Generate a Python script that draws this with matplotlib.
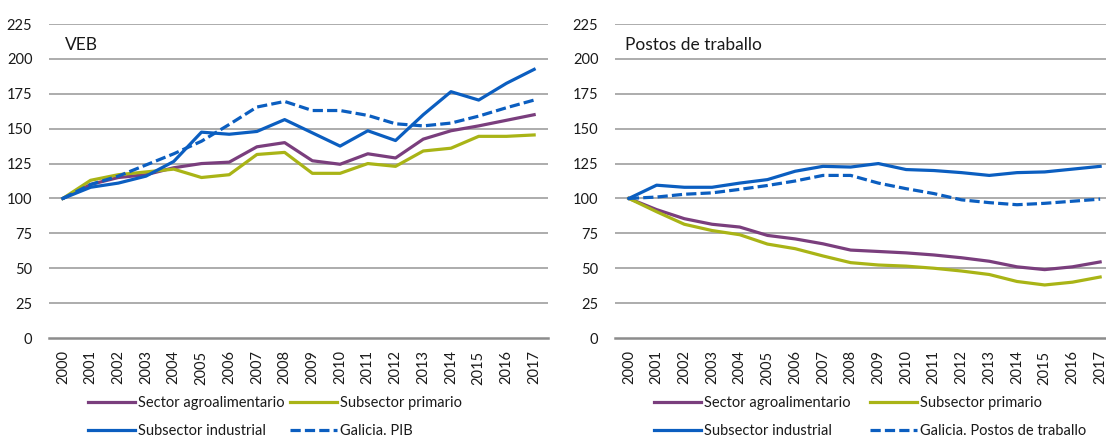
import matplotlib.pyplot as plt
import numpy as np

plt.rcParams["font.family"] = ["Lato", "DejaVu Sans"]

years = [str(y) for y in range(2000, 2018)]

# VEB (index 2000 = 100)
veb_agro = [100, 110, 115, 117, 122, 125, 126, 137, 140, 127, 124.5, 132, 129, 142.5, 148.5, 152, 156, 160]
veb_primario = [100, 113, 117, 119, 121, 115, 117, 131.5, 133, 118, 118, 125, 123, 134, 136, 144.5, 144.5, 145.5]
veb_industrial = [100, 108, 111, 116, 126.5, 147.5, 146, 148, 156.5, 147, 137.5, 148.5, 141.5, 160, 176.5, 170.5, 182.5, 192.5]
veb_galicia = [100, 110, 116, 124, 132, 141, 153, 165.5, 169.5, 163, 163, 159.5, 153.5, 152, 154, 159, 165, 170.5]

# Postos de traballo (index 2000 = 100)
emp_agro = [100, 92, 85.5, 81.5, 79.5, 73.5, 71, 67.5, 63, 62, 61, 59.5, 57.5, 55, 51, 49, 51, 54.5]
emp_primario = [100, 90.5, 81.5, 77, 74, 67.3, 64, 58.8, 54, 52.3, 51.5, 50, 48, 45.5, 40.5, 38, 40, 43.7]
emp_industrial = [100, 109.5, 108, 108, 111, 113.5, 119.5, 123, 122.5, 125, 120.7, 120, 118.5, 116.5, 118.5, 119, 121, 123]
emp_galicia = [100, 101, 103, 104, 106.5, 109.3, 112.5, 116.5, 116.5, 111, 107, 103.5, 99, 97, 95.5, 96.5, 98, 99.5]

PURPLE = "#7A3E7D"
OLIVE = "#A9B416"
BLUE = "#0B5EC0"
GRID = "#A6A6A6"
TXT = "#1a1a1a"
W, H = 1106, 441

fig = plt.figure(figsize=(W / 100, H / 100), dpi=100)
ax1 = fig.add_axes([49 / W, 1 - 338 / H, 499 / W, 314 / H])
ax2 = fig.add_axes([615 / W, 1 - 338 / H, 499 / W, 314 / H])

x = np.arange(len(years))


def draw(ax, agro, prim, ind, gal, title, gal_label, colsp, title_px):
    lw = 2.3
    h1, = ax.plot(x, agro, color=PURPLE, lw=lw, label="Sector agroalimentario")
    h2, = ax.plot(x, prim, color=OLIVE, lw=lw, label="Subsector primario")
    h3, = ax.plot(x, ind, color=BLUE, lw=lw, label="Subsector industrial")
    h4, = ax.plot(x, gal, color=BLUE, lw=lw, dashes=(3.2, 1.3), label=gal_label)

    ax.set_xlim(-0.5, 17.5)
    ax.set_ylim(0, 225)
    ax.set_yticks(range(0, 226, 25))
    ax.set_xticks(x)
    ax.set_xticklabels(years, rotation=90)
    for v in range(25, 226, 25):
        ax.axhline(v, color=GRID, lw=1.3, zorder=0)
    for s in ["left", "right", "top"]:
        ax.spines[s].set_visible(False)
    ax.spines["bottom"].set_color("#8C8C8C")
    ax.spines["bottom"].set_linewidth(1.8)
    ax.tick_params(length=0, labelsize=10.5, colors=TXT)
    ax.tick_params(axis="y", pad=12)
    ax.tick_params(axis="x", pad=9)
    ax.text(title_px / 499, 1 - 21 / 314, title, transform=ax.transAxes,
            fontsize=12.5, color=TXT, va="center")

    leg = ax.legend([h1, h3, h2, h4],
                    [h1.get_label(), h3.get_label(), h2.get_label(), h4.get_label()],
                    ncol=2, loc="upper left", frameon=False, fontsize=10.5,
                    handlelength=3.2, handletextpad=0.25, labelspacing=0.95,
                    columnspacing=colsp, borderpad=0, borderaxespad=0,
                    bbox_transform=fig.transFigure,
                    bbox_to_anchor=((ax.get_position().x0 * W + 39) / W, 1 - 396 / H))
    for t in leg.get_texts():
        t.set_color(TXT)


draw(ax1, veb_agro, veb_primario, veb_industrial, veb_galicia, "VEB", "Galicia. PIB", 0.35, 16)
draw(ax2, emp_agro, emp_primario, emp_industrial, emp_galicia, "Postos de traballo",
     "Galicia. Postos de traballo", 1.3, 10)

fig.savefig("out.png", dpi=100)
